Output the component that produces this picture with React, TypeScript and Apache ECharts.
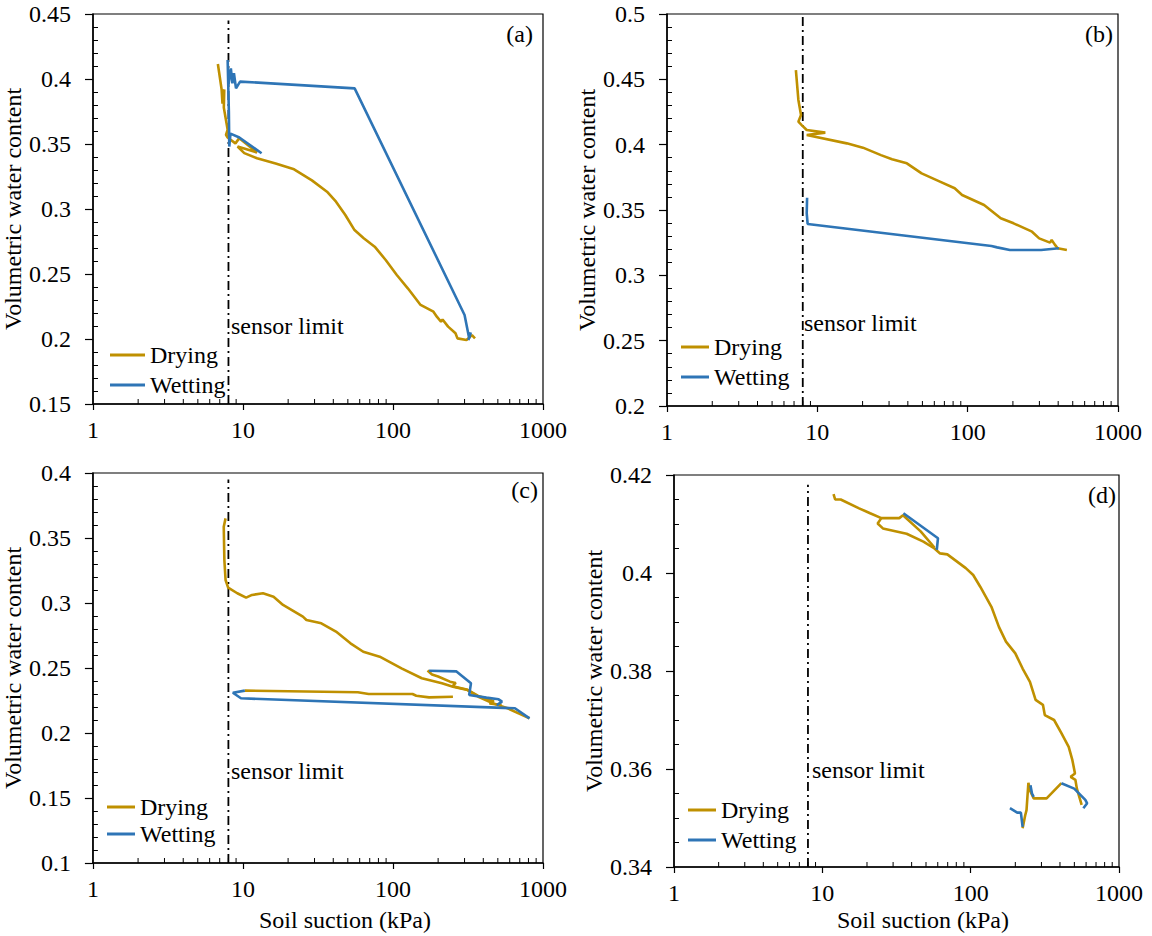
import { useEffect, useRef } from "react";
import * as echarts from "echarts";

type Pt = [number, number];

// Soil suction (kPa) vs volumetric water content, four columns (a)–(d)
const dryingA: Pt[][] = [
  [
    [6.8, 0.4115], [7.2, 0.392], [7.3, 0.381], [7.5, 0.392], [7.45, 0.378], [7.9, 0.361],
    [7.7, 0.357], [7.9, 0.355], [8.9, 0.3505], [9.45, 0.3545], [12.4, 0.3435], [9.2, 0.348],
    [10.2, 0.343], [12.4, 0.339], [16.5, 0.335], [21.9, 0.3305], [28.8, 0.322], [36.3, 0.3133],
    [41.7, 0.3056], [48.1, 0.2954], [55.4, 0.2838], [63.8, 0.2775], [75.5, 0.271], [89.4, 0.2608],
    [106, 0.2492], [125.5, 0.239], [152.7, 0.2262], [186, 0.221], [196, 0.2172], [209, 0.2133],
    [214, 0.215], [233, 0.2095], [261, 0.2044], [269, 0.2005], [309, 0.1992], [336, 0.203],
    [352, 0.2005],
  ],
];
const wettingA: Pt[][] = [
  [
    [318, 0.1992], [330, 0.205], [322, 0.2005], [300, 0.2185], [55.5, 0.3928], [9.56, 0.398],
    [8.98, 0.3928], [8.7, 0.4044], [8.5, 0.3967], [8.3, 0.4082], [8.0, 0.3954], [7.9, 0.4146],
    [8.05, 0.375], [8.1, 0.348], [8.25, 0.358], [9.45, 0.355], [13.3, 0.3429],
  ],
];

const dryingB: Pt[][] = [
  [
    [7.2, 0.4571], [7.48, 0.4342], [7.79, 0.4227], [7.48, 0.4176], [7.87, 0.415], [8.5, 0.4112],
    [11.3, 0.4092], [8.5, 0.4074], [15.7, 0.401], [20.1, 0.3977], [26.5, 0.392], [31.4, 0.3888],
    [39.4, 0.3857], [49.4, 0.378], [65.4, 0.3717], [82, 0.3666], [91.8, 0.3615], [128.6, 0.3538],
    [166, 0.3437], [202, 0.3398], [268, 0.3334], [299, 0.3283], [353, 0.325], [362, 0.327],
    [380, 0.3235], [397, 0.3207], [457, 0.3194],
  ],
];
const wettingB: Pt[][] = [
  [
    [405, 0.3207], [308, 0.3194], [191, 0.3194], [157, 0.3214], [144, 0.3224], [8.62, 0.3393],
    [8.5, 0.3475], [8.55, 0.3594],
  ],
];

const dryingC: Pt[][] = [
  [
    [7.66, 0.3651], [7.45, 0.3587], [7.52, 0.3331], [7.66, 0.3177], [7.97, 0.3118], [9.17, 0.3075],
    [10.5, 0.3041], [11.5, 0.3062], [13.6, 0.3075], [16, 0.3048], [18.5, 0.2985], [21.2, 0.2946],
    [25.1, 0.2895], [26.5, 0.2869], [33.3, 0.2844], [41.7, 0.278], [52.1, 0.269], [63.4, 0.2625],
    [81.6, 0.2587], [114, 0.2497], [155.6, 0.2421], [212, 0.2382], [251, 0.2356], [314, 0.233],
    [371, 0.2279], [464, 0.2228], [581, 0.219], [687, 0.2151], [813, 0.2113],
  ],
  [
    [10.3, 0.2326], [58.3, 0.2313], [68.9, 0.23], [135, 0.23], [143, 0.2287], [174, 0.2274],
    [251, 0.2279],
  ],
  [
    [170, 0.248], [182, 0.245], [200, 0.2435], [240, 0.2395], [262, 0.2385], [250, 0.236],
    [310, 0.2335], [370, 0.2285], [430, 0.2262], [470, 0.2245], [440, 0.2228], [530, 0.2215],
  ],
];
const wettingC: Pt[][] = [
  [[813, 0.2113], [650, 0.219], [9.7, 0.2267], [8.57, 0.231], [10.3, 0.2326]],
  [
    [174, 0.2479], [265, 0.2474], [331, 0.2382], [322, 0.2292], [420, 0.2272], [506, 0.2259],
    [533, 0.2241], [492, 0.2215],
  ],
];

const dryingD: Pt[][] = [
  [
    [11.9, 0.4161], [12.2, 0.415], [13.3, 0.415], [17.7, 0.4132], [21, 0.4122], [25, 0.4112],
    [23.6, 0.4101], [25.6, 0.4091], [37, 0.408], [48, 0.4064], [57, 0.405], [62.2, 0.404],
    [69.6, 0.4038], [92.7, 0.401], [104, 0.3996], [116, 0.3972], [138, 0.3931], [155, 0.389],
    [173, 0.386], [200, 0.3836], [224, 0.3805], [251, 0.3778], [274, 0.3741], [307, 0.3731],
    [316, 0.371], [365, 0.37], [409, 0.3673], [458, 0.3645], [485, 0.3618], [505, 0.3591],
    [472, 0.3584], [508, 0.3578], [520, 0.356], [560, 0.3527],
  ],
  [[25, 0.4112], [33, 0.4112], [35, 0.4118], [46, 0.4085], [57, 0.4052]],
  [
    [224, 0.3479], [233, 0.3505], [238, 0.3516], [245, 0.3572], [252, 0.3555], [266, 0.354],
    [325, 0.354], [409, 0.3571],
  ],
];
const wettingD: Pt[][] = [
  [[35.2, 0.4122], [60.2, 0.4071], [59.1, 0.4047]],
  [[184, 0.352], [206, 0.3511], [218, 0.3511], [224, 0.3482]],
  [[253, 0.3567], [259, 0.355], [266, 0.3543]],
  [[409, 0.3571], [499, 0.356], [593, 0.3537], [610, 0.353], [575, 0.352]],
];

// Instrument limit of the suction sensor (kPa)
const SENSOR_LIMIT_KPA = 8;
// Minor ticks of the logarithmic suction axis
const suctionMinorTicks = [2, 3, 4, 5, 6, 7, 8, 9, 20, 30, 40, 50, 60, 70, 80, 90, 200, 300, 400, 500, 600, 700, 800, 900];

const GOLD = "#BF9000";
const BLUE = "#2E75B6";
const FONT = "Liberation Serif";

interface Panel {
  tag: string;
  drying: Pt[][];
  wetting: Pt[][];
  yMin: number;
  yMax: number;
  yStep: number;
  yMinorSplit: number;
  sensorTop: number;
  grid: { left: number; top: number; width: number; height: number };
  legend: { left: number; top: number; itemWidth: number; itemGap: number };
  yNameGap: number;
  tagAt: [number, number];
  sensorLabelAt: [number, number];
  xTitleAt: [number, number] | null;
}

const panels: Panel[] = [
  {
    tag: "(a)", drying: dryingA, wetting: wettingA,
    yMin: 0.15, yMax: 0.45, yStep: 0.05, yMinorSplit: 5, sensorTop: 0.445,
    grid: { left: 93, top: 14, width: 450, height: 390 },
    legend: { left: 105, top: 338, itemWidth: 35, itemGap: 6 },
    yNameGap: 58, tagAt: [533, 34], sensorLabelAt: [231, 326], xTitleAt: null,
  },
  {
    tag: "(b)", drying: dryingB, wetting: wettingB,
    yMin: 0.2, yMax: 0.5, yStep: 0.05, yMinorSplit: 5, sensorTop: 0.5,
    grid: { left: 667, top: 14, width: 451, height: 392 },
    legend: { left: 676, top: 330, itemWidth: 28, itemGap: 6 },
    yNameGap: 58, tagAt: [1113, 34], sensorLabelAt: [804, 323], xTitleAt: null,
  },
  {
    tag: "(c)", drying: dryingC, wetting: wettingC,
    yMin: 0.1, yMax: 0.4, yStep: 0.05, yMinorSplit: 5, sensorTop: 0.395,
    grid: { left: 90, top: 473, width: 453, height: 390 },
    legend: { left: 102, top: 790, itemWidth: 28, itemGap: 3 },
    yNameGap: 58, tagAt: [538, 490], sensorLabelAt: [231, 771], xTitleAt: [345, 920],
  },
  {
    tag: "(d)", drying: dryingD, wetting: wettingD,
    yMin: 0.34, yMax: 0.42, yStep: 0.02, yMinorSplit: 4, sensorTop: 0.418,
    grid: { left: 674, top: 475, width: 445, height: 392 },
    legend: { left: 683, top: 793, itemWidth: 28, itemGap: 6 },
    yNameGap: 68, tagAt: [1116, 495], sensorLabelAt: [812, 770], xTitleAt: [923, 920],
  },
];

function buildOption(): echarts.EChartsOption {
  const grids: any[] = [];
  const xAxes: any[] = [];
  const yAxes: any[] = [];
  const legends: any[] = [];
  const series: any[] = [];
  const graphics: any[] = [];

  const text = (t: string, x: number, y: number, align: string) => ({
    type: "text",
    x,
    y,
    silent: true,
    style: {
      text: t,
      fill: "#000",
      fontSize: 24,
      fontFamily: FONT,
      align,
      textAlign: align,
      verticalAlign: "middle",
      textVerticalAlign: "middle",
    },
  });

  panels.forEach((p, i) => {
    grids.push({
      ...p.grid,
      show: true,
      borderColor: "#000",
      borderWidth: 1.2,
      backgroundColor: "transparent",
    });

    xAxes.push({
      type: "log",
      logBase: 10,
      gridIndex: i,
      min: 1,
      max: 1000,
      axisLine: { show: true, lineStyle: { color: "#000", width: 1.5 } },
      axisTick: { show: true, inside: false, length: 6, lineStyle: { color: "#000", width: 1.2 } },
      axisLabel: {
        fontSize: 24,
        fontFamily: FONT,
        color: "#000",
        margin: 14,
        formatter: (v: number) => String(Math.round(v)),
      },
      splitLine: { show: false },
    });

    // main value axis: labels and outward major ticks
    yAxes.push({
      type: "value",
      gridIndex: i,
      position: "left",
      min: p.yMin,
      max: p.yMax,
      interval: p.yStep,
      axisLine: { show: true, lineStyle: { color: "#000", width: 1.5 } },
      axisTick: { show: true, inside: false, length: 8, lineStyle: { color: "#000", width: 1.2 } },
      axisLabel: { fontSize: 24, fontFamily: FONT, color: "#000", margin: 22 },
      splitLine: { show: false },
      name: "Volumetric water content",
      nameLocation: "middle",
      nameRotate: 90,
      nameGap: p.yNameGap,
      nameTextStyle: { fontSize: 24, fontFamily: FONT, color: "#000" },
    });
    // companion axis carrying only the inward minor ticks
    yAxes.push({
      type: "value",
      gridIndex: i,
      position: "left",
      min: p.yMin,
      max: p.yMax,
      interval: p.yStep,
      axisLine: { show: false },
      axisTick: { show: false, inside: true },
      axisLabel: { show: false },
      splitLine: { show: false },
      minorTick: { show: true, splitNumber: p.yMinorSplit, length: 5, lineStyle: { color: "#000", width: 1 } },
      minorSplitLine: { show: false },
    });

    legends.push({
      orient: "vertical",
      left: p.legend.left,
      top: p.legend.top,
      data: ["Drying", "Wetting"],
      icon: "rect",
      itemWidth: p.legend.itemWidth,
      itemHeight: 3,
      itemGap: p.legend.itemGap,
      selectedMode: false,
      textStyle: { fontSize: 24, fontFamily: FONT, color: "#000" },
    });

    const yIdx = 2 * i;

    series.push({
      type: "line",
      name: "sensor limit",
      xAxisIndex: i,
      yAxisIndex: yIdx,
      data: [
        [SENSOR_LIMIT_KPA, p.yMin],
        [SENSOR_LIMIT_KPA, p.sensorTop],
      ],
      symbol: "none",
      silent: true,
      lineStyle: { color: "#000", width: 1.8, type: [9, 4, 2, 4] },
      z: 2,
    });

    p.drying.forEach((seg) => {
      series.push({
        type: "line",
        name: "Drying",
        xAxisIndex: i,
        yAxisIndex: yIdx,
        data: seg,
        symbol: "none",
        color: GOLD,
        itemStyle: { color: GOLD },
        lineStyle: { color: GOLD, width: 2.6 },
        z: 3,
      });
    });
    p.wetting.forEach((seg) => {
      series.push({
        type: "line",
        name: "Wetting",
        xAxisIndex: i,
        yAxisIndex: yIdx,
        data: seg,
        symbol: "none",
        color: BLUE,
        itemStyle: { color: BLUE },
        lineStyle: { color: BLUE, width: 2.6 },
        z: 4,
      });
    });

    // inward minor ticks on the log suction axis
    series.push({
      type: "custom",
      name: "suction minor ticks",
      xAxisIndex: i,
      yAxisIndex: yIdx,
      silent: true,
      z: 5,
      data: suctionMinorTicks.map((v) => [v, p.yMin]),
      renderItem: (_params: any, api: any) => {
        const pt = api.coord([api.value(0), api.value(1)]);
        return {
          type: "line",
          shape: { x1: pt[0], y1: pt[1], x2: pt[0], y2: pt[1] - 5 },
          style: { stroke: "#000", lineWidth: 1 },
        };
      },
    });

    graphics.push(text(p.tag, p.tagAt[0], p.tagAt[1], "right"));
    graphics.push(text("sensor limit", p.sensorLabelAt[0], p.sensorLabelAt[1], "left"));
    if (p.xTitleAt) graphics.push(text("Soil suction (kPa)", p.xTitleAt[0], p.xTitleAt[1], "center"));
  });

  return {
    animation: false,
    backgroundColor: "#fff",
    textStyle: { fontFamily: FONT },
    grid: grids,
    xAxis: xAxes,
    yAxis: yAxes,
    legend: legends,
    series,
    graphic: graphics,
  } as echarts.EChartsOption;
}

export default function App() {
  const ref = useRef<HTMLDivElement>(null);

  useEffect(() => {
    if (!ref.current) return;
    const chart = echarts.init(ref.current, undefined, { renderer: "svg" });
    chart.setOption(buildOption());
    return () => chart.dispose();
  }, []);

  return (
    <div
      ref={ref}
      style={{ position: "fixed", left: 0, top: 0, width: 1152, height: 936, background: "#fff" }}
    />
  );
}
